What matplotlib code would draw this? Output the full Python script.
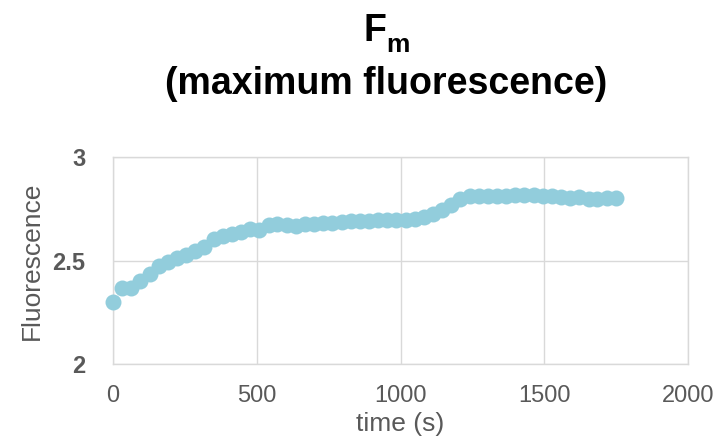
import matplotlib
matplotlib.use("Agg")
import matplotlib.pyplot as plt

# time (s) and Fm readings
TIME_S = [0, 32, 64, 95, 127, 159, 191, 223, 254, 286,
          318, 350, 382, 413, 445, 477, 509, 541, 572, 604,
          636, 668, 700, 731, 763, 795, 827, 859, 890, 922,
          954, 986, 1018, 1049, 1081, 1113, 1145, 1177, 1208, 1240,
          1272, 1304, 1336, 1367, 1399, 1431, 1463, 1495, 1526, 1558,
          1590, 1622, 1654, 1685, 1717, 1749]
FM = [2.30, 2.365, 2.365, 2.40, 2.435, 2.475, 2.495, 2.51, 2.525, 2.548,
      2.567, 2.605, 2.62, 2.626, 2.64, 2.654, 2.648, 2.67, 2.675, 2.67,
      2.668, 2.675, 2.675, 2.68, 2.68, 2.685, 2.69, 2.69, 2.69, 2.695,
      2.695, 2.697, 2.698, 2.702, 2.71, 2.727, 2.743, 2.77, 2.795, 2.811,
      2.811, 2.811, 2.811, 2.812, 2.815, 2.815, 2.815, 2.812, 2.811, 2.805,
      2.803, 2.808, 2.798, 2.798, 2.803, 2.803]

X_TICKS = [0, 500, 1000, 1500, 2000]
Y_TICKS = [2, 2.5, 3]
Y_TICK_LABELS = ["2", "2.5", "3"]

MARKER_COLOR = "#92CDDC"
GRID_COLOR = "#D9D9D9"
TEXT_COLOR = "#595959"

plt.rcParams["font.family"] = ["Liberation Sans", "DejaVu Sans"]

fig = plt.figure(figsize=(7.18, 4.37), dpi=100)
ax = fig.add_axes([113 / 718, 1 - 364 / 437, 575 / 718, 207 / 437])

ax.plot(TIME_S, FM, linestyle="none", marker="o", markersize=11.5,
        color=MARKER_COLOR, markeredgewidth=0, zorder=3, clip_on=False)

ax.set_xlim(0, 2000)
ax.set_ylim(2, 3)
ax.set_xticks(X_TICKS)
ax.set_yticks(Y_TICKS)
ax.set_yticklabels(Y_TICK_LABELS)
ax.grid(True, color=GRID_COLOR, linewidth=1)
ax.set_axisbelow(True)
for s in ax.spines.values():
    s.set_color(GRID_COLOR)
    s.set_linewidth(1)

ax.tick_params(length=0, labelcolor=TEXT_COLOR)
ax.tick_params(axis="x", labelsize=17, pad=15)
ax.tick_params(axis="y", labelsize=17, pad=20)
for lab in ax.get_yticklabels():
    lab.set_fontweight("bold")

ax.set_xlabel("time (s)", fontsize=19, color=TEXT_COLOR, labelpad=4)
ax.set_ylabel("Fluorescence", fontsize=19, color=TEXT_COLOR, labelpad=6)

# two-line title: "F" with a subscript "m", then the description
fig.text(375 / 718, 1 - 31 / 437, "F", fontsize=27, fontweight="bold",
         ha="center", va="center", color="black")
fig.text(398 / 718, 1 - 45 / 437, "m", fontsize=19, fontweight="bold",
         ha="center", va="center", color="black")
fig.text(386 / 718, 1 - 84 / 437, "(maximum fluorescence)", fontsize=27,
         fontweight="bold", ha="center", va="center", color="black")

fig.savefig("out.png", dpi=100)
